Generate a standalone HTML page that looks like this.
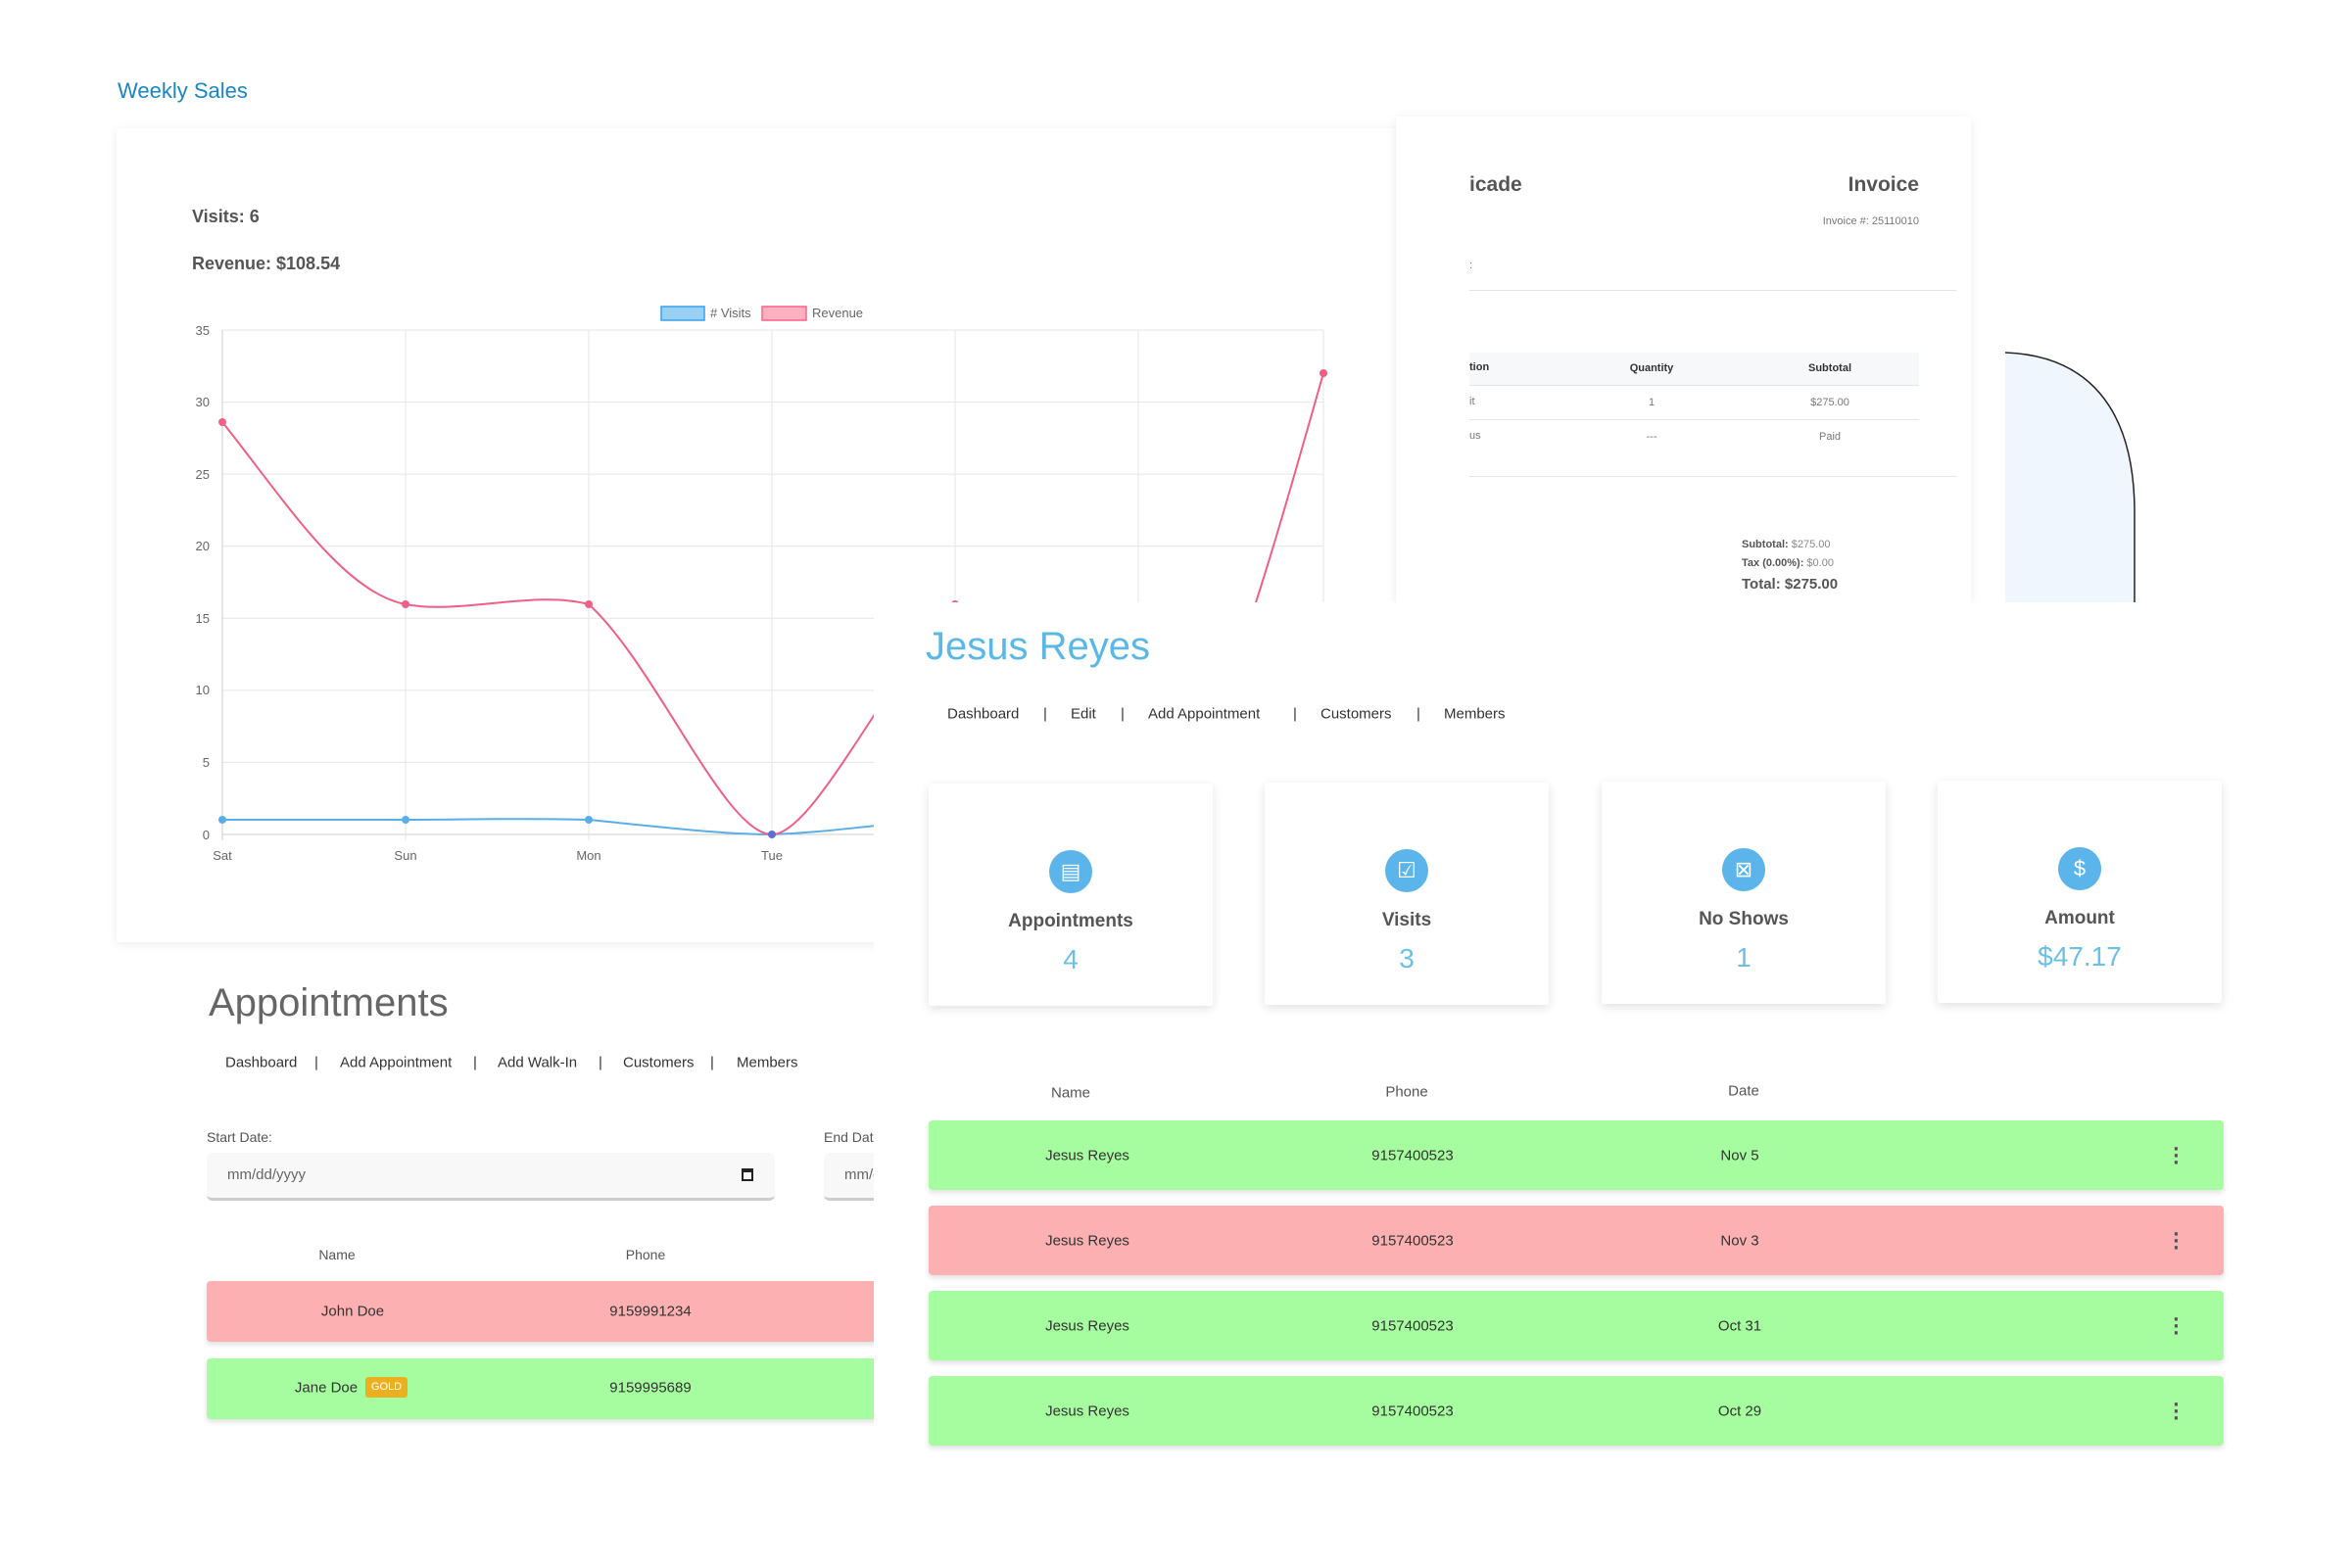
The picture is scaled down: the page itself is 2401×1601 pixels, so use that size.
<!DOCTYPE html>
<html><head><meta charset="utf-8"><style>
*{margin:0;padding:0;box-sizing:border-box}
body{width:2401px;height:1601px;background:#fff;position:relative;overflow:hidden;font-family:"Liberation Sans",sans-serif;color:#444}
.a{position:absolute;white-space:nowrap}
.card{position:absolute;background:#fff;box-shadow:0 2px 10px rgba(0,0,0,0.08)}
.nav span{position:absolute;white-space:nowrap;font-size:15px;color:#333;transform:translateY(-50%)}
.c{transform:translate(-50%,-50%)}
.stat{position:absolute;width:290px;height:227px;background:#fff;box-shadow:0 3px 10px rgba(0,0,0,0.12);border-radius:3px}
.stat .ic{position:absolute;left:123px;top:68px;width:44px;height:44px;border-radius:50%;background:#5bb5ea;color:#fff;font-size:22px;text-align:center;line-height:44px}
.stat .lb{position:absolute;left:0;width:100%;top:130px;text-align:center;font-size:19px;font-weight:bold;color:#555}
.stat .nm{position:absolute;left:0;width:100%;top:164px;text-align:center;font-size:28px;color:#6cc0e8}
.row{position:absolute;left:948px;width:1322px;height:71px;border-radius:4px;box-shadow:0 3px 6px rgba(0,0,0,0.12);font-size:15px;color:#333}
.row span{position:absolute;top:50%;transform:translate(-50%,-50%);white-space:nowrap}
.g{background:#a6fda0}.r{background:#fdb0b1}
.dots{font-size:22px;font-weight:bold;color:#555;line-height:7px;text-align:center;letter-spacing:0}
</style></head><body>

<div class="a" style="left:120px;top:80px;font-size:22px;color:#1a86c2">Weekly Sales</div>

<div class="card" style="left:119px;top:131px;width:1318px;height:831px">
  <div class="a" style="left:77px;top:80px;font-size:18px;font-weight:bold;color:#555">Visits: 6</div>
  <div class="a" style="left:77px;top:128px;font-size:18px;font-weight:bold;color:#555">Revenue: $108.54</div>
</div>

<svg class="a" style="left:0;top:0" width="1437" height="962" viewBox="0 0 1437 962">
  <g stroke="#e6e6e6" stroke-width="1">
    <line x1="227" y1="337" x2="1351" y2="337"/><line x1="227" y1="410.6" x2="1351" y2="410.6"/>
    <line x1="227" y1="484.1" x2="1351" y2="484.1"/><line x1="227" y1="557.7" x2="1351" y2="557.7"/>
    <line x1="227" y1="631.3" x2="1351" y2="631.3"/><line x1="227" y1="704.9" x2="1351" y2="704.9"/>
    <line x1="227" y1="778.4" x2="1351" y2="778.4"/><line x1="227" y1="852" x2="1351" y2="852" stroke="#ccc"/>
    <line x1="227" y1="337" x2="227" y2="858" stroke="#ccc"/><line x1="414" y1="337" x2="414" y2="858"/>
    <line x1="601" y1="337" x2="601" y2="858"/><line x1="788" y1="337" x2="788" y2="858"/>
    <line x1="975" y1="337" x2="975" y2="858"/><line x1="1162" y1="337" x2="1162" y2="858"/>
    <line x1="1351" y1="337" x2="1351" y2="858"/>
  </g>
  <g font-family="Liberation Sans" font-size="13" fill="#666" text-anchor="end">
    <text x="214" y="342">35</text><text x="214" y="415">30</text><text x="214" y="489">25</text>
    <text x="214" y="562">20</text><text x="214" y="636">15</text><text x="214" y="709">10</text>
    <text x="214" y="783">5</text><text x="214" y="857">0</text>
  </g>
  <g font-family="Liberation Sans" font-size="13" fill="#666" text-anchor="middle">
    <text x="227" y="878">Sat</text><text x="414" y="878">Sun</text><text x="601" y="878">Mon</text><text x="788" y="878">Tue</text>
  </g>
  <rect x="675" y="313" width="44" height="14" fill="#9ad0f5" stroke="#36a2eb" stroke-width="1.5"/>
  <text x="725" y="324" font-family="Liberation Sans" font-size="13" fill="#666"># Visits</text>
  <rect x="778" y="313" width="45" height="14" fill="#ffb1c1" stroke="#ff6384" stroke-width="1.5"/>
  <text x="829" y="324" font-family="Liberation Sans" font-size="13" fill="#666">Revenue</text>
  <path d="M227,837 C300,837 350,837 414,837 C480,837 540,835 601,837 C680,845 740,852 788,852 C850,850 900,840 975,837" fill="none" stroke="#5aaee8" stroke-width="2"/>
  <path d="M227,431 C290,510 350,605 414,617 C470,628 545,602 601,617 C670,680 740,852 788,852 C830,852 900,700 975,617 C1050,700 1100,852 1162,852 C1220,852 1300,560 1351,381" fill="none" stroke="#ef5f86" stroke-width="2"/>
  <g fill="#ef5f86"><circle cx="227" cy="431" r="4"/><circle cx="414" cy="617" r="4"/><circle cx="601" cy="617" r="4"/><circle cx="975" cy="617" r="4"/><circle cx="1351" cy="381" r="4"/></g>
  <g fill="#5aaee8"><circle cx="227" cy="837" r="4"/><circle cx="414" cy="837" r="4"/><circle cx="601" cy="837" r="4"/><circle cx="788" cy="852" r="4" fill="#5b6fd0"/></g>
</svg>

<!-- invoice -->
<div class="card" style="left:1425px;top:119px;width:587px;height:496px;overflow:hidden">
  <div style="position:absolute;left:0;top:0;width:75px;height:100%;background:#fff"></div>
  <div class="a" style="left:75px;top:58px;font-size:21px;font-weight:bold;color:#555">icade</div>
  <div class="a" style="right:53px;top:58px;font-size:21px;font-weight:bold;color:#555">Invoice</div>
  <div class="a" style="right:53px;top:101px;font-size:11px;color:#777">Invoice #: 25110010</div>
  <div class="a" style="left:75px;top:146px;font-size:11px;color:#777">:</div>
  <div class="a" style="left:75px;top:177px;width:497px;height:1px;background:#e5e5e5"></div>
  <div class="a" style="left:75px;top:241px;width:459px;height:34px;background:#f7f8fa;border-bottom:1px solid #e5e5e5"></div>
  <div class="a" style="left:75px;top:250px;font-size:11px;font-weight:bold;color:#333">tion</div>
  <div class="a c" style="left:261px;top:257px;font-size:11px;font-weight:bold;color:#333">Quantity</div>
  <div class="a c" style="left:443px;top:257px;font-size:11px;font-weight:bold;color:#333">Subtotal</div>
  <div class="a" style="left:75px;top:285px;font-size:11px;color:#777">it</div>
  <div class="a c" style="left:261px;top:292px;font-size:11px;color:#777">1</div>
  <div class="a c" style="left:443px;top:292px;font-size:11px;color:#777">$275.00</div>
  <div class="a" style="left:75px;top:309px;width:459px;height:1px;background:#e5e5e5"></div>
  <div class="a" style="left:75px;top:320px;font-size:11px;color:#777">us</div>
  <div class="a c" style="left:261px;top:327px;font-size:11px;color:#777">---</div>
  <div class="a c" style="left:443px;top:327px;font-size:11px;color:#777">Paid</div>
  <div class="a" style="left:75px;top:367px;width:497px;height:1px;background:#e5e5e5"></div>
  <div class="a" style="left:353px;top:431px;font-size:11px;color:#888"><b style="color:#555">Subtotal:</b> $275.00</div>
  <div class="a" style="left:353px;top:450px;font-size:11px;color:#888"><b style="color:#555">Tax (0.00%):</b> $0.00</div>
  <div class="a" style="left:353px;top:469px;font-size:15px;color:#555;font-weight:bold">Total: $275.00</div>
</div>
<svg class="a" style="left:2040px;top:355px" width="150" height="262">
  <path d="M7,5 C90,8 138,60 139,165 L139,262 L7,262 Z" fill="#eff6fd"/>
  <path d="M7,5 C90,8 138,60 139,165 L139,262" fill="none" stroke="#222" stroke-width="1.5"/>
</svg>

<!-- appointments left -->
<div class="a" style="left:213px;top:1002px;font-size:40px;color:#666;font-weight:300">Appointments</div>
<div class="nav">
  <span style="left:230px;top:1085px">Dashboard</span><span style="left:321px;top:1085px">|</span>
  <span style="left:347px;top:1085px">Add Appointment</span><span style="left:483px;top:1085px">|</span>
  <span style="left:508px;top:1085px">Add Walk-In</span><span style="left:611px;top:1085px">|</span>
  <span style="left:636px;top:1085px">Customers</span><span style="left:725px;top:1085px">|</span>
  <span style="left:752px;top:1085px">Members</span>
</div>
<div class="a" style="left:211px;top:1153px;font-size:14px;color:#555">Start Date:</div>
<div class="a" style="left:211px;top:1177px;width:580px;height:49px;background:#f8f8f8;border-radius:6px;border-bottom:3px solid #ccc"></div>
<div class="a" style="left:232px;top:1191px;font-size:15px;color:#666">mm/dd/yyyy</div>
<div class="a" style="left:757px;top:1193px;width:12px;height:13px;border:2px solid #222;border-top-width:4px"></div>
<div class="a" style="left:841px;top:1153px;font-size:14px;color:#555">End Date</div>
<div class="a" style="left:841px;top:1177px;width:200px;height:49px;background:#f8f8f8;border-radius:6px;border-bottom:3px solid #ccc"></div>
<div class="a" style="left:862px;top:1191px;font-size:15px;color:#666">mm/dd</div>
<div class="a c" style="left:344px;top:1281px;font-size:14px;color:#555">Name</div>
<div class="a c" style="left:659px;top:1281px;font-size:14px;color:#555">Phone</div>
<div class="a r" style="left:211px;top:1308px;width:800px;height:62px;border-radius:4px;box-shadow:0 3px 6px rgba(0,0,0,0.12)"></div>
<div class="a c" style="left:360px;top:1339px;font-size:15px;color:#333">John Doe</div>
<div class="a c" style="left:664px;top:1339px;font-size:15px;color:#333">9159991234</div>
<div class="a g" style="left:211px;top:1387px;width:800px;height:62px;border-radius:4px;box-shadow:0 3px 6px rgba(0,0,0,0.12)"></div>
<div class="a c" style="left:333px;top:1417px;font-size:15px;color:#333">Jane Doe</div>
<div class="a" style="left:373px;top:1406px;width:43px;height:21px;background:#ecb01e;border-radius:3px;color:#fff;font-size:11px;text-align:center;line-height:21px">GOLD</div>
<div class="a c" style="left:664px;top:1417px;font-size:15px;color:#333">9159995689</div>

<!-- Jesus panel -->
<div class="a" style="left:892px;top:615px;width:1509px;height:986px;background:#fff"></div>
<div class="a" style="left:945px;top:638px;font-size:40px;color:#5bb8e6;font-weight:300">Jesus Reyes</div>
<div class="nav">
  <span style="left:967px;top:729px">Dashboard</span><span style="left:1065px;top:729px">|</span>
  <span style="left:1093px;top:729px">Edit</span><span style="left:1144px;top:729px">|</span>
  <span style="left:1172px;top:729px">Add Appointment</span><span style="left:1320px;top:729px">|</span>
  <span style="left:1348px;top:729px">Customers</span><span style="left:1446px;top:729px">|</span>
  <span style="left:1474px;top:729px">Members</span>
</div>
<div class="stat" style="left:948px;top:800px"><div class="ic">▤</div><div class="lb">Appointments</div><div class="nm">4</div></div>
<div class="stat" style="left:1291px;top:799px"><div class="ic">☑</div><div class="lb">Visits</div><div class="nm">3</div></div>
<div class="stat" style="left:1635px;top:798px"><div class="ic">⊠</div><div class="lb">No Shows</div><div class="nm">1</div></div>
<div class="stat" style="left:1978px;top:797px"><div class="ic">$</div><div class="lb">Amount</div><div class="nm">$47.17</div></div>

<div class="a c" style="left:1093px;top:1116px;font-size:15px;color:#555">Name</div>
<div class="a c" style="left:1436px;top:1115px;font-size:15px;color:#555">Phone</div>
<div class="a c" style="left:1780px;top:1114px;font-size:15px;color:#555">Date</div>

<div class="row g" style="top:1144px"><span style="left:162px">Jesus Reyes</span><span style="left:494px">9157400523</span><span style="left:828px">Nov 5</span><span class="dots" style="left:1274px">·<br>·<br>·</span></div>
<div class="row r" style="top:1231px"><span style="left:162px">Jesus Reyes</span><span style="left:494px">9157400523</span><span style="left:828px">Nov 3</span><span class="dots" style="left:1274px">·<br>·<br>·</span></div>
<div class="row g" style="top:1318px"><span style="left:162px">Jesus Reyes</span><span style="left:494px">9157400523</span><span style="left:828px">Oct 31</span><span class="dots" style="left:1274px">·<br>·<br>·</span></div>
<div class="row g" style="top:1405px"><span style="left:162px">Jesus Reyes</span><span style="left:494px">9157400523</span><span style="left:828px">Oct 29</span><span class="dots" style="left:1274px">·<br>·<br>·</span></div>
</body></html>
